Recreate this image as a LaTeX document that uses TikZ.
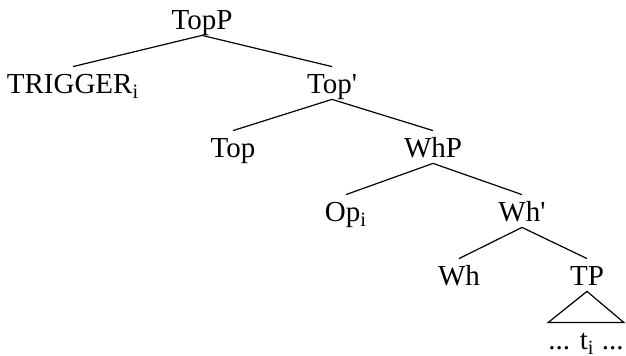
\documentclass[tikz,border=0pt]{standalone}
\usepackage{fontspec}
\setmainfont{Liberation Serif}
\usetikzlibrary{positioning}
\tikzstyle{cat}    = [inner sep=0pt, text height=13.5pt, text depth=2.5pt, font=\fontsize{14.5}{17}\selectfont]
\tikzstyle{branch} = [draw, line width=0.6pt]

\begin{document}
\begin{tikzpicture}[node distance=32pt]
    \useasboundingbox (0,0) rectangle (313pt,-178pt);

    \node[cat] (TopP) at (101pt,-9.5pt) {TopP};
    \node[cat, below of=TopP, xshift=-64.5pt]  (TRIG)   {TRIGGER\textsubscript{i}};
    \node[cat, below of=TopP, xshift=65pt]     (TopBar) {Top\textquotesingle};

    \node[cat, below of=TopBar, xshift=-49.5pt] (Top) {Top};
    \node[cat, below of=TopBar, xshift=50.5pt]  (WhP) {WhP};

    \node[cat, below of=WhP, xshift=-43.5pt] (Op)    {Op\textsubscript{i}};
    \node[cat, below of=WhP, xshift=44.5pt]  (WhBar) {Wh\textquotesingle};

    \node[cat, below of=WhBar, xshift=-31.5pt] (Wh) {Wh};
    \node[cat, below of=WhBar, xshift=32.5pt]  (TP) {TP};
    \node[cat, below of=TP, xshift=-0.5pt]     (trace) {... t\textsubscript{i} ...};

    % branches
    \path[branch] (TopP.south)   -- (TRIG.north);
    \path[branch] (TopP.south)   -- (TopBar.north);
    \path[branch] (TopBar.south) -- (Top.north);
    \path[branch] (TopBar.south) -- (WhP.north);
    \path[branch] (WhP.south)    -- (Op.north);
    \path[branch] (WhP.south)    -- (WhBar.north);
    \path[branch] (WhBar.south)  -- (Wh.north);
    \path[branch] (WhBar.south)  -- (TP.north);

    % triangle over TP
    \path[branch] (TP.south) -- (trace.north east) -- (trace.north west) -- cycle;

\end{tikzpicture}
\end{document}
